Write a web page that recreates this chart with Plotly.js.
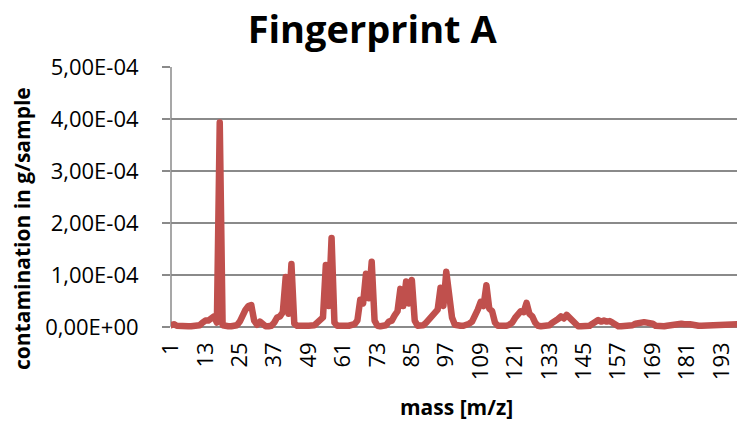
<!DOCTYPE html>
<html>
<head>
<meta charset="utf-8">
<script src="https://cdn.plot.ly/plotly-3.0.1.min.js"></script>
<style>
  html, body { margin: 0; padding: 0; background: #fff; }
  #chart { width: 737px; height: 423px; }
  /* rounded joins and ends for the data line */
  #chart path.js-line { stroke-linejoin: round !important; stroke-linecap: round !important; }
</style>
</head>
<body>
<div id="chart"></div>
<script>
// Contamination per mass channel (m/z 1 … 199), in units of 1E-04 g/sample
const firstMass = 1;
const contaminationE4 = [
  0.03, 0.05, 0.02, 0.01, 0.01, 0.01, 0.01, 0.01, 0.01, 0.01,   // 1-10
  0.03, 0.08, 0.12, 0.12, 0.15, 0.20, 0.08, 3.93, 0.03, 0.01,   // 11-20
  0.01, 0.01, 0.02, 0.03, 0.10, 0.25, 0.33, 0.40, 0.42, 0.12,   // 21-30
  0.04, 0.10, 0.03, 0.01, 0.01, 0.02, 0.08, 0.18, 0.20, 0.28,   // 31-40
  0.96, 0.25, 1.21, 0.06, 0.02, 0.01, 0.01, 0.02, 0.02, 0.02,   // 41-50
  0.03, 0.08, 0.12, 0.18, 1.19, 0.40, 1.71, 0.08, 0.02, 0.01,   // 51-60
  0.01, 0.02, 0.02, 0.03, 0.05, 0.12, 0.52, 0.45, 1.02, 0.55,   // 61-70
  1.25, 0.12, 0.02, 0.01, 0.02, 0.03, 0.10, 0.12, 0.22, 0.30,   // 71-80
  0.73, 0.40, 0.87, 0.45, 0.90, 0.12, 0.02, 0.02, 0.03, 0.08,   // 81-90
  0.15, 0.17, 0.25, 0.33, 0.75, 0.40, 1.06, 0.50, 0.18, 0.04,   // 91-100
  0.02, 0.02, 0.02, 0.03, 0.06, 0.10, 0.20, 0.33, 0.48, 0.40,   // 101-110
  0.80, 0.35, 0.30, 0.08, 0.02, 0.01, 0.02, 0.02, 0.04, 0.08,   // 111-120
  0.17, 0.25, 0.30, 0.28, 0.46, 0.25, 0.20, 0.08, 0.02, 0.01,   // 121-130
  0.01, 0.02, 0.03, 0.08, 0.10, 0.15, 0.20, 0.16, 0.23, 0.18,   // 131-140
  0.12, 0.04, 0.01, 0.01, 0.01, 0.01, 0.02, 0.06, 0.10, 0.13,   // 141-150
  0.10, 0.12, 0.10, 0.11, 0.08, 0.03, 0.01, 0.01, 0.01, 0.01,   // 151-160
  0.02, 0.03, 0.06, 0.08, 0.07, 0.09, 0.08, 0.08, 0.06, 0.02,   // 161-170
  0.01, 0.01, 0.01, 0.02, 0.03, 0.05, 0.06, 0.05, 0.06, 0.05,   // 171-180
  0.06, 0.05, 0.04, 0.02, 0.02, 0.02, 0.02, 0.02, 0.03, 0.04,   // 181-190
  0.05, 0.05, 0.05, 0.05, 0.05, 0.05, 0.05, 0.05, 0.05          // 191-199
];

const xTickVals = [1, 13, 25, 37, 49, 61, 73, 85, 97, 109, 121, 133, 145, 157, 169, 181, 193];
const yTickVals = [0, 1e-4, 2e-4, 3e-4, 4e-4, 5e-4];
const yTickText = ['0,00E+00', '1,00E-04', '2,00E-04', '3,00E-04', '4,00E-04', '5,00E-04'];

const titleText = 'Fingerprint A';
const xTitle = 'mass [m/z]';
const yTitle = 'contamination in g/sample';

const lineColor = '#C0504D';
const gridColor = '#8A8A8A';
const fontFamily = '"Open Sans", "DejaVu Sans", sans-serif';

const trace = {
  type: 'scatter',
  mode: 'lines',
  x0: firstMass,
  dx: 1,
  y: contaminationE4.map(v => v * 1e-4),
  line: { color: lineColor, width: 6.5 },
  hoverinfo: 'x+y'
};

const layout = {
  width: 737,
  height: 423,
  margin: { l: 171, r: 0, t: 67, b: 91 },
  paper_bgcolor: '#ffffff',
  plot_bgcolor: '#ffffff',
  showlegend: false,
  font: { family: fontFamily, color: '#000000' },
  title: {
    text: titleText,
    font: { family: fontFamily, size: 38, weight: 700, color: '#000000' },
    xref: 'container', x: 0.505, xanchor: 'center',
    yref: 'container', y: 0.93, yanchor: 'middle'
  },
  xaxis: {
    range: [1, 198.4],
    showgrid: false,
    zeroline: false,
    showline: false,
    ticks: '',
    tickmode: 'array',
    tickvals: xTickVals,
    ticktext: xTickVals.map(String),
    tickangle: -90,
    tickfont: { family: fontFamily, size: 22, color: '#000000' },
    ticklabelstandoff: 5,
    automargin: false,
    fixedrange: true
  },
  yaxis: {
    range: [-0.1e-4, 5e-4],
    showgrid: true,
    gridcolor: gridColor,
    gridwidth: 1.5,
    zeroline: false,
    showline: false,
    ticks: 'outside',
    ticklen: 8,
    tickwidth: 1.5,
    tickcolor: gridColor,
    tickmode: 'array',
    tickvals: yTickVals,
    ticktext: yTickText,
    tickfont: { family: fontFamily, size: 22, color: '#000000' },
    ticklabelstandoff: 19,
    automargin: false,
    fixedrange: true
  },
  annotations: [
    {
      text: yTitle, textangle: -90,
      xref: 'paper', x: (22 - 171) / 566, xanchor: 'center',
      yref: 'paper', y: (423 - 91 - 229) / 265, yanchor: 'middle',
      showarrow: false,
      font: { family: fontFamily, size: 21, weight: 700, color: '#000000' }
    },
    {
      text: xTitle,
      xref: 'paper', x: (456 - 171) / 566, xanchor: 'center',
      yref: 'paper', y: (423 - 91 - 407) / 265, yanchor: 'middle',
      showarrow: false,
      font: { family: fontFamily, size: 21, weight: 700, color: '#000000' }
    }
  ],
  shapes: [
    {
      // vertical value axis, from 0 to the top of the scale
      type: 'line', xref: 'paper', x0: 0, x1: 0,
      yref: 'y', y0: 0, y1: 5e-4,
      line: { color: gridColor, width: 1.5 },
      layer: 'below'
    }
  ]
};

Plotly.newPlot('chart', [trace], layout, { displayModeBar: false, staticPlot: true });
</script>
</body>
</html>
